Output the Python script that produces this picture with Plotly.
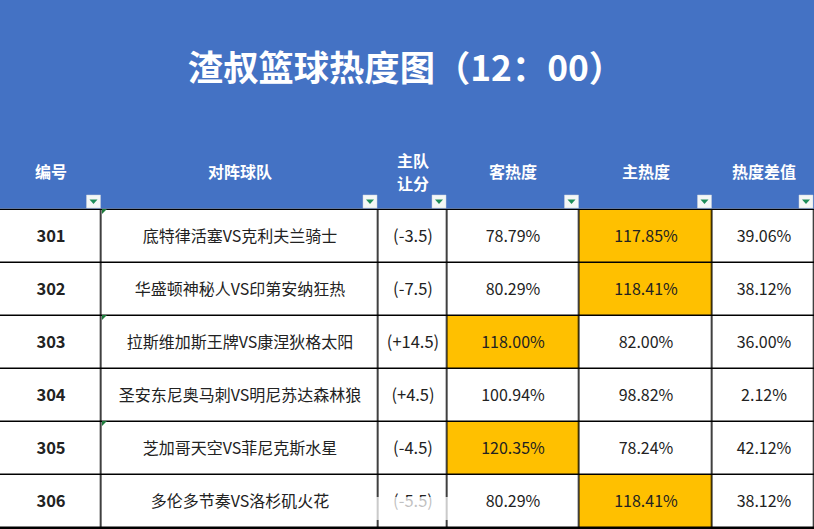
import plotly.graph_objects as go

W, H = 814, 529

title = '渣叔篮球热度图（12：00）'
headers = ['编号', '对阵球队', '主队<br>让分', '客热度', '主热度', '热度差值']
ids = ['301', '302', '303', '304', '305', '306']
teams = ['底特律活塞VS克利夫兰骑士', '华盛顿神秘人VS印第安纳狂热', '拉斯维加斯王牌VS康涅狄格太阳',
         '圣安东尼奥马刺VS明尼苏达森林狼', '芝加哥天空VS菲尼克斯水星', '多伦多节奏VS洛杉矶火花']
spreads = ['(-3.5)', '(-7.5)', '(+14.5)', '(+4.5)', '(-4.5)', '(-5.5)']
away = [78.79, 80.29, 118.00, 100.94, 120.35, 80.29]
home = [117.85, 118.41, 82.00, 98.82, 78.24, 118.41]
diff = [39.06, 38.12, 36.00, 2.12, 42.12, 38.12]

BLUE = '#4472C4'
GOLD = '#FFC000'
col_edges = [-0.5, 101.5, 378, 447, 579.5, 712.5, 814.5]
row_edges = [210, 263, 316, 369, 422, 475, 528]


def px(x):
    return x / W


def py(y):
    return 1 - y / H


def pct(vals):
    return [f'{v:.2f}%' for v in vals]


def hot(vals):
    return [1 if v >= 110 else 0 for v in vals]


columns = [['<b><span style="font-size:16.5px">%s</span></b>' % i for i in ids], teams,
           ['<span style="font-size:16.5px">%s</span>' % s for s in spreads],
           pct(away), pct(home), pct(diff)]
flags = [[0] * 6, [0] * 6, [0] * 6, hot(away), hot(home), [0] * 6]

fig = go.Figure(go.Heatmap(
    x=col_edges,
    y=row_edges,
    z=[list(r) for r in zip(*flags)],
    text=[list(r) for r in zip(*columns)],
    texttemplate='%{text}',
    textfont=dict(family='Noto Sans CJK SC', size=16, color='#222222'),
    colorscale=[[0, 'white'], [1, GOLD]],
    zmin=0,
    zmax=1,
    xgap=1.5,
    ygap=1.5,
    showscale=False,
    hoverinfo='skip',
))

shapes = [dict(type='rect', xref='paper', yref='paper', x0=0, x1=1, y0=py(208.5), y1=1,
               fillcolor=BLUE, line_width=0, layer='below')]
annotations = []

for i, head in enumerate(headers):
    lines = head.split('<br>')
    for n, line in enumerate(lines):
        annotations.append(dict(
            text='<b>%s</b>' % line, x=px((col_edges[i] + col_edges[i + 1]) / 2),
            y=py(171 + (n - (len(lines) - 1) / 2) * 23), xref='paper', yref='paper',
            showarrow=False, xanchor='center', yanchor='middle',
            font=dict(family='Noto Sans CJK SC', size=16, color='white'),
        ))
    # filter button in the corner of the header cell
    right = min(col_edges[i + 1], W)
    shapes.append(dict(type='rect', xref='paper', yref='paper', x0=px(right - 15), x1=px(right - 1),
                       y0=py(208), y1=py(195), fillcolor='#F4F7F6', line=dict(color='#C8D0DC', width=0.5)))
    cx = right - 8
    shapes.append(dict(type='path', xref='paper', yref='paper', fillcolor='#1E8E5A', line_width=0,
                       path=f'M {px(cx - 4)} {py(199.5)} L {px(cx + 4)} {py(199.5)} L {px(cx)} {py(204)} Z'))

# green comment markers on the row corners
for row in [0, 2, 4]:
    y = row_edges[row] - 1
    shapes.append(dict(type='path', xref='paper', yref='paper', fillcolor='#1E7B3C', line_width=0,
                       path=f'M {px(102)} {py(y)} L {px(107)} {py(y)} L {px(102)} {py(y + 5)} Z'))

# watermark over the last row
shapes.append(dict(type='rect', xref='paper', yref='paper', x0=px(340), x1=px(456), y0=py(497), y1=py(520),
                   fillcolor='white', opacity=0.72, line_width=0))

fig.update_layout(
    title=dict(text='<b>%s</b>' % title, x=406 / W, y=py(68.5), xanchor='center', yanchor='middle',
               font=dict(family='Noto Sans CJK SC', size=35.3, color='white')),
    xaxis=dict(visible=False, range=[0, W], domain=[0, 1]),
    yaxis=dict(visible=False, range=[529, 208.5], domain=[0, py(208.5)]),
    width=W,
    height=H,
    margin=dict(l=0, r=0, t=0, b=0),
    paper_bgcolor='white',
    plot_bgcolor='black',
    shapes=shapes,
    annotations=annotations,
)

fig.write_html('out.html', config=dict(displayModeBar=False), post_script="document.body.style.margin='0';")
